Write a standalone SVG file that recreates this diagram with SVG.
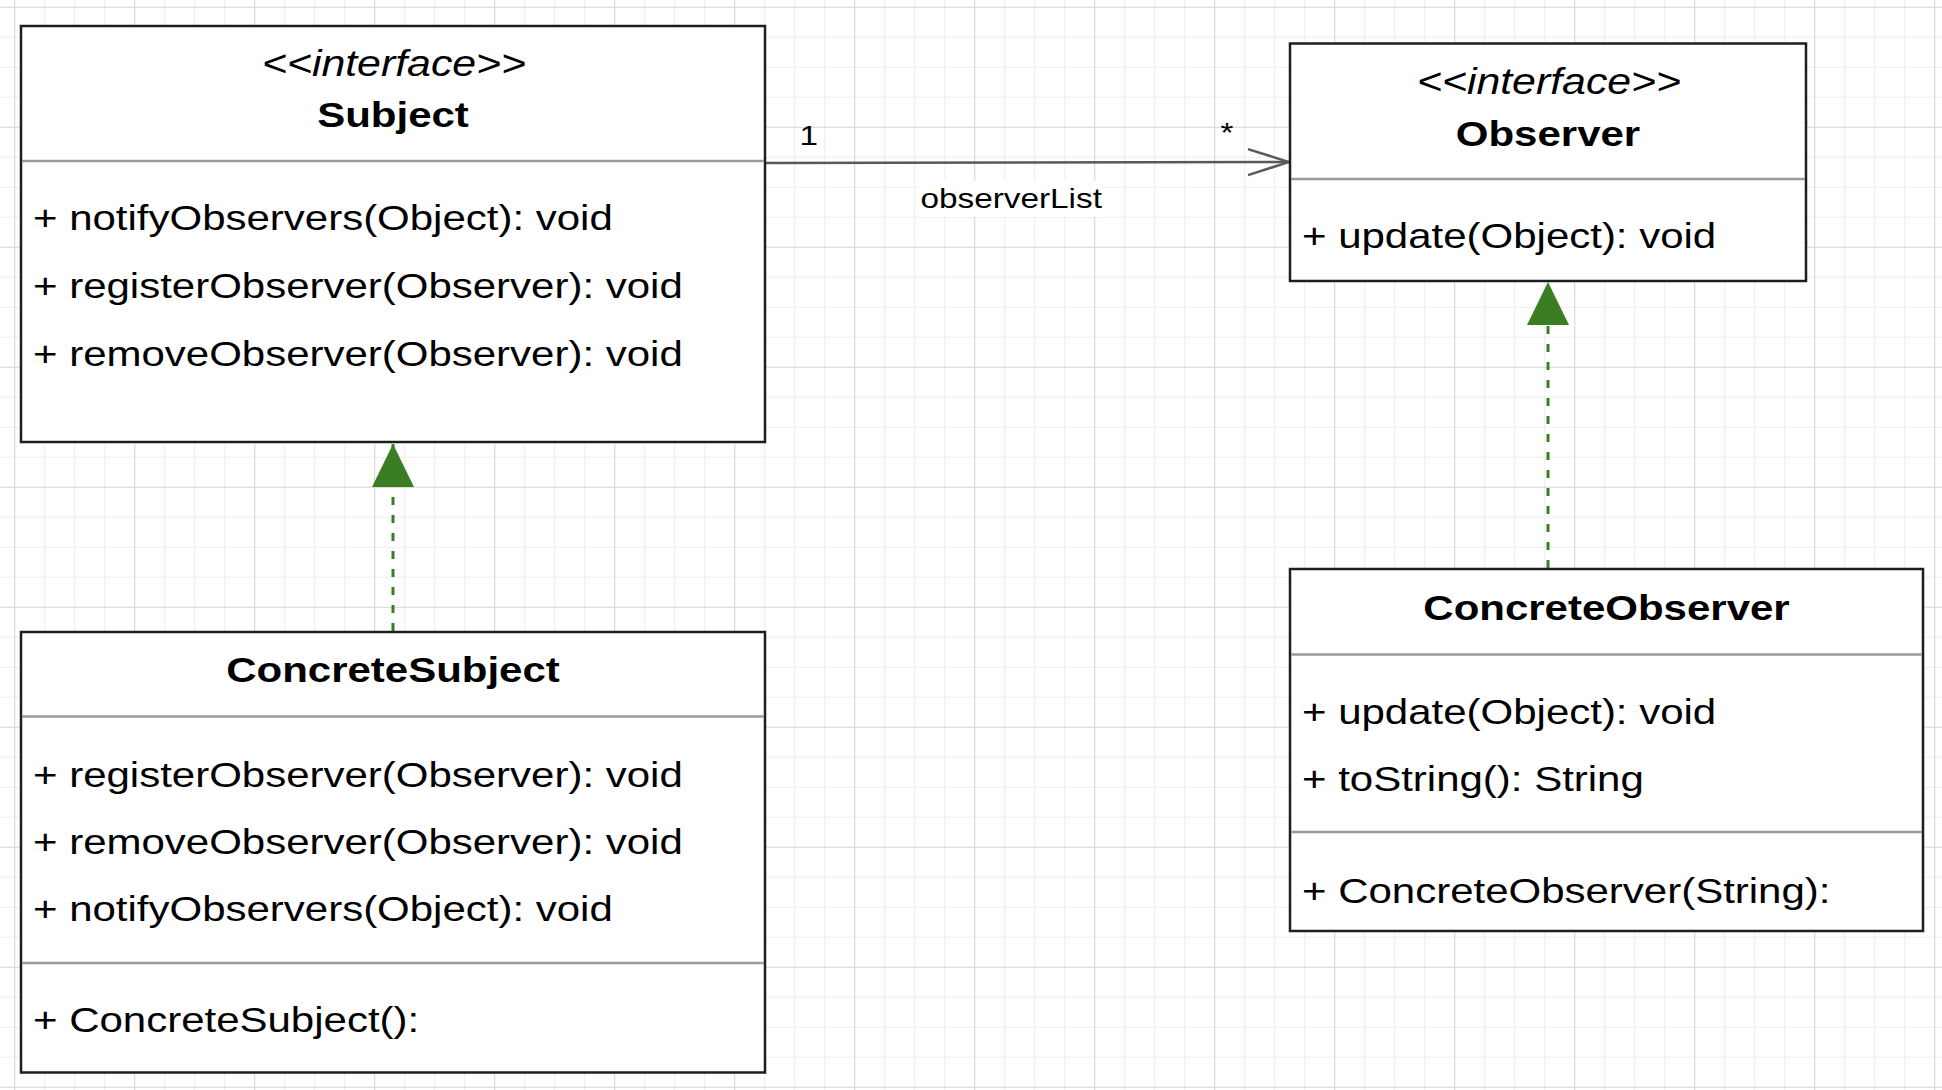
<svg xmlns="http://www.w3.org/2000/svg" width="1942" height="1090" viewBox="0 0 1942 1090">
<style>
  text { font-family: "Liberation Sans", Arial, Helvetica, sans-serif; fill: #000; }
  .m { font-size: 35px; }
  .t { font-size: 35px; font-weight: bold; text-anchor: middle; }
  .st { font-size: 36px; font-style: italic; text-anchor: middle; }
  .lb { font-size: 28px; }
  .box { fill: #fff; stroke: #1e1e1e; stroke-width: 2.5; }
  .div { stroke: #9a9a9a; stroke-width: 2.5; fill: none; }
  .assoc { stroke: #595959; stroke-width: 2.5; fill: none; }
  .real { stroke: #3b7d23; stroke-width: 3; stroke-dasharray: 8 10; fill: none; }
</style>
<defs>
  <pattern id="grid" patternUnits="userSpaceOnUse" x="14.2" y="6.8" width="120" height="120">
    <path d="M30.5,0V120M60.5,0V120M90.5,0V120M0,30.5H120M0,60.5H120M0,90.5H120" stroke="#eeeeee" stroke-width="1.2" fill="none"/>
    <path d="M0.5,0V120M0,0.5H120" stroke="#d6d6d6" stroke-width="1.2" fill="none"/>
  </pattern>
  <marker id="openArrow" markerUnits="userSpaceOnUse" viewBox="-2 -2 46 30" markerWidth="46" markerHeight="30" refX="41" refY="13" orient="auto">
    <path d="M0,0 L41,13 L0,26" stroke="#595959" stroke-width="2.5" fill="none"/>
  </marker>
  <marker id="realize" markerUnits="userSpaceOnUse" viewBox="0 0 43 42" markerWidth="43" markerHeight="42" refX="43" refY="21" orient="auto">
    <path d="M0,0 L43,21 L0,42 Z" fill="#3b7d23"/>
  </marker>
</defs>
<rect x="0" y="0" width="1942" height="1090" fill="#ffffff"/>
<rect x="0" y="0" width="1942" height="1090" fill="url(#grid)"/>

<g id="connectors">
  <path class="assoc" d="M765,163 L1289,162" marker-end="url(#openArrow)"/>
  <rect x="920" y="181" width="182" height="36" fill="#ffffff"/>
  <text class="lb" transform="translate(920.5,208.3) scale(1.19,1)">observerList</text>
  <text class="lb" transform="translate(799.5,145) scale(1.19,1)">1</text>
  <text class="lb" text-anchor="middle" transform="translate(1227,141.5) scale(1.19,1)">*</text>
  <path class="real" d="M393,631 L393,444" marker-end="url(#realize)"/>
  <path class="real" d="M1548,568 L1548,282" marker-end="url(#realize)"/>
</g>

<g id="Subject">
  <rect class="box" x="21" y="26" width="744" height="416"/>
  <line class="div" x1="22" y1="161" x2="764" y2="161"/>
  <text class="st" transform="translate(394,76) scale(1.19,1)">&lt;&lt;interface&gt;&gt;</text>
  <text class="t" transform="translate(393,127) scale(1.2,1)">Subject</text>
  <text class="m" transform="translate(33,229.5) scale(1.2,1)">+ notifyObservers(Object): void</text>
  <text class="m" transform="translate(33,298) scale(1.2,1)">+ registerObserver(Observer): void</text>
  <text class="m" transform="translate(33,366) scale(1.2,1)">+ removeObserver(Observer): void</text>
</g>

<g id="Observer">
  <rect class="box" x="1290" y="43.5" width="516" height="237.5"/>
  <line class="div" x1="1291" y1="179" x2="1805" y2="179"/>
  <text class="st" transform="translate(1549,94) scale(1.19,1)">&lt;&lt;interface&gt;&gt;</text>
  <text class="t" transform="translate(1548,145.5) scale(1.2,1)">Observer</text>
  <text class="m" transform="translate(1302,248) scale(1.2,1)">+ update(Object): void</text>
</g>

<g id="ConcreteSubject">
  <rect class="box" x="21" y="632" width="744" height="440.5"/>
  <line class="div" x1="22" y1="716.5" x2="764" y2="716.5"/>
  <line class="div" x1="22" y1="963" x2="764" y2="963"/>
  <text class="t" transform="translate(393,682) scale(1.2,1)">ConcreteSubject</text>
  <text class="m" transform="translate(33,787) scale(1.2,1)">+ registerObserver(Observer): void</text>
  <text class="m" transform="translate(33,854) scale(1.2,1)">+ removeObserver(Observer): void</text>
  <text class="m" transform="translate(33,920.5) scale(1.2,1)">+ notifyObservers(Object): void</text>
  <text class="m" transform="translate(33,1032) scale(1.2,1)">+ ConcreteSubject():</text>
</g>

<g id="ConcreteObserver">
  <rect class="box" x="1290" y="569" width="633" height="362"/>
  <line class="div" x1="1291" y1="654.5" x2="1922" y2="654.5"/>
  <line class="div" x1="1291" y1="832" x2="1922" y2="832"/>
  <text class="t" transform="translate(1606.5,619.5) scale(1.2,1)">ConcreteObserver</text>
  <text class="m" transform="translate(1302,724) scale(1.2,1)">+ update(Object): void</text>
  <text class="m" transform="translate(1302,790.5) scale(1.2,1)">+ toString(): String</text>
  <text class="m" transform="translate(1302,903) scale(1.2,1)">+ ConcreteObserver(String):</text>
</g>
</svg>
